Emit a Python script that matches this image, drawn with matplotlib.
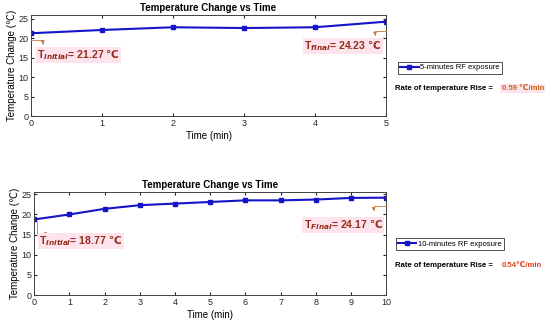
import numpy as np
import matplotlib.pyplot as plt

# 5-minute exposure
t5 = [0, 1, 2, 3, 4, 5]
temp5 = [21.27, 22.1, 22.8, 22.6, 22.8, 24.23]

# 10-minute exposure
t10 = [0, 1, 2, 3, 4, 5, 6, 7, 8, 9, 10]
temp10 = [18.77, 20.0, 21.4, 22.3, 22.7, 23.1, 23.5, 23.5, 23.7, 24.1, 24.17]

plt.rcParams['font.family'] = ['Liberation Sans', 'DejaVu Sans']

blue = '#1414c8'
red = '#962c1c'
pink = '#fde3ec'
arrow_c = '#c8783c'

fig = plt.figure(figsize=(5.5, 3.25), dpi=100)
ax1 = fig.add_axes([0.0564, 0.642, 0.6455, 0.3126])
ax2 = fig.add_axes([0.0624, 0.0923, 0.6395, 0.316])


def style(ax, xmax, ymax):
    ax.set_xlim(0, xmax)
    ax.set_ylim(0, ymax)
    ax.set_xticks(range(0, xmax + 1))
    ax.set_yticks(range(0, 26, 5))
    ax.tick_params(direction='in', length=2.5, labelsize=6.5, top=True, right=True,
                   colors='#262626', pad=2)
    for s in ax.spines.values():
        s.set_color('#404040')
        s.set_linewidth(0.7)
    ax.set_title('Temperature Change vs Time', fontsize=7, fontweight='bold', pad=3)
    ax.set_xlabel('Time (min)', fontsize=7, labelpad=2)
    ax.set_ylabel('Temperature Change (℃)', fontsize=7, labelpad=1)


def arrow(ax, tip, start, style):
    ax.annotate('', xy=tip, xytext=start,
                arrowprops=dict(arrowstyle='-|>', color=arrow_c, lw=0.6, mutation_scale=5,
                                shrinkA=0, shrinkB=0,
                                connectionstyle=style))


def label(ax, x, y, txt, ha):
    ax.text(x, y, txt, color=red, fontsize=7.6, fontweight='bold', va='center', ha=ha,
            bbox=dict(facecolor=pink, edgecolor='none', pad=1))


# top plot
ax1.plot(t5, temp5, color=blue, lw=1.5, marker='s', ms=3, label='5-minutes RF exposure')
style(ax1, 5, 26)
arrow(ax1, (0.165, 18.4), (0.0, 19.5), 'angle,angleA=0,angleB=90,rad=0')
arrow(ax1, (4.845, 20.6), (5.0, 21.9), 'angle,angleA=180,angleB=90,rad=0')
label(ax1, 0.085, 15.7, r'T$_{\mathbfit{initial}}$= 21.27 $\mathbf{℃}$', 'left')
label(ax1, 4.94, 18.0, r'T$_{\mathbfit{final}}$= 24.23 $\mathbf{℃}$', 'right')

# bottom plot
ax2.plot(t10, temp10, color=blue, lw=1.5, marker='s', ms=3, label='10-minutes RF exposure')
style(ax2, 10, 25.5)
arrow(ax2, (0.4, 15.3), (0.085, 18.3), 'angle,angleA=90,angleB=0,rad=0')
arrow(ax2, (9.65, 20.8), (10.0, 22.2), 'angle,angleA=180,angleB=90,rad=0')
label(ax2, 0.14, 13.4, r'T$_{\mathbfit{Initial}}$= 18.77 $\mathbf{℃}$', 'left')
label(ax2, 9.91, 17.4, r'T$_{\mathbfit{Final}}$= 24.17 $\mathbf{℃}$', 'right')

# legends
for ax, y in [(ax1, 0.792), (ax2, 0.248)]:
    leg = ax.legend(loc='center', bbox_to_anchor=(0.818, y), bbox_transform=fig.transFigure,
                    fontsize=5.5, frameon=True, fancybox=False, handlelength=2.4,
                    borderpad=0.3, handletextpad=0.2)
    leg.get_frame().set_edgecolor('black')
    leg.get_frame().set_linewidth(0.6)

# rate text
fig.text(0.718, 0.728, 'Rate of temperature Rise = ', fontsize=5.6, fontweight='bold', va='center')
fig.text(0.912, 0.728, '0.59 ℃/min', fontsize=5.6, fontweight='bold', va='center',
         color='#c8641e', bbox=dict(facecolor=pink, edgecolor='none', pad=1))
fig.text(0.718, 0.184, 'Rate of temperature Rise = ', fontsize=5.6, fontweight='bold', va='center')
fig.text(0.912, 0.184, '0.54℃/min', fontsize=5.6, fontweight='bold', va='center',
         color='#e0401e')

fig.savefig('out.png', dpi=100)
